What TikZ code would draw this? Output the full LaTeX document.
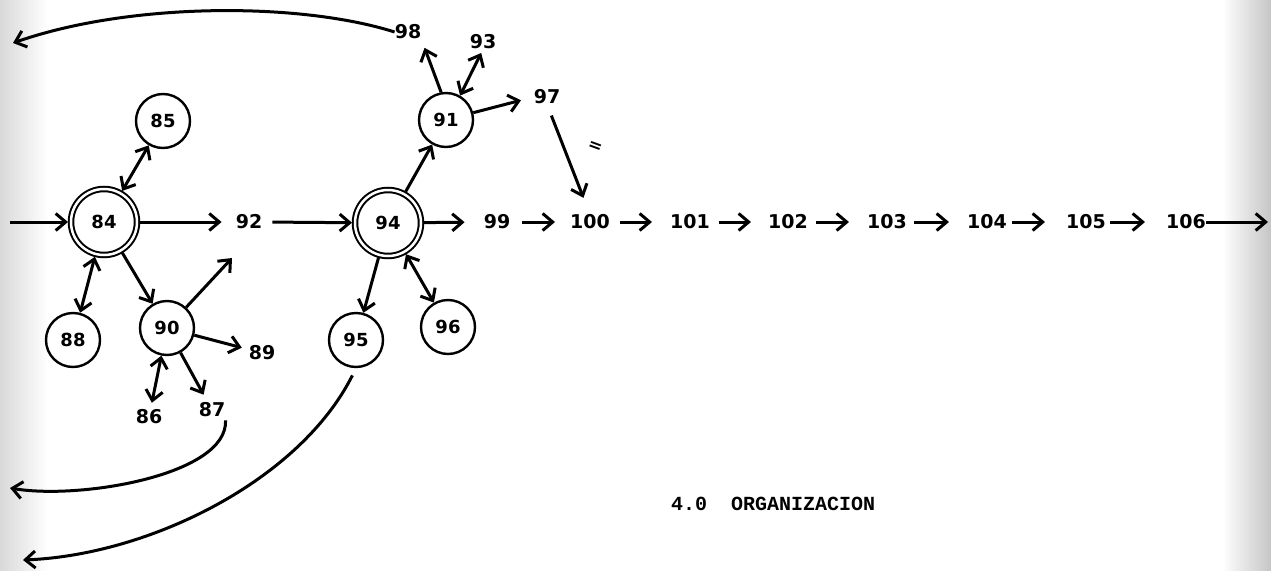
\documentclass[tikz,border=0pt]{standalone}
\usepackage{fontspec}
\usetikzlibrary{arrows.meta}
\newfontfamily\numfont{DejaVu Sans}
\newfontfamily\labfont{Liberation Mono}
\begin{document}
\begin{tikzpicture}[x=1pt,y=-1pt,
  >={Straight Barb[length=10pt,width=17pt]},
  sc/.style={draw,circle,minimum size=54pt,inner sep=0pt,line width=2.4pt,font=\numfont\bfseries\fontsize{18}{20}\selectfont},
  dc/.style={draw,circle,minimum size=66pt,inner sep=0pt,line width=2pt,double,double distance=2.5pt,outer sep=3pt,font=\numfont\bfseries\fontsize{18}{20}\selectfont},
  lbl/.style={inner sep=0pt,font=\numfont\bfseries\fontsize{19}{22}\selectfont},
  arr/.style={->,line width=3pt},
  barr/.style={<->,line width=3pt},
]
\useasboundingbox (0,0) rectangle (1271,570);
% scanned page edges
\fill[left color=gray!30,right color=white,draw=none] (0,0) rectangle (48,570);
\fill[left color=white,right color=gray!45,draw=none] (1222,0) rectangle (1271,570);

% circles
\node[dc] (n84) at (104,222) {84};
\node[dc] (n94) at (388,223) {94};
\node[sc] (n85) at (163,121) {85};
\node[sc] (n88) at (73,340) {88};
\node[sc] (n90) at (167,328) {90};
\node[sc] (n95) at (356,340) {95};
\node[sc] (n96) at (448,327) {96};
\node[sc] (n91) at (446,120) {91};

% labels
\node[lbl] (n92) at (249,222) {92};
\node[lbl] (n98) at (408,32) {98};
\node[lbl] (n93) at (483,42) {93};
\node[lbl] (n97) at (547,97) {97};
\node[lbl] (n89) at (262,353) {89};
\node[lbl] (n86) at (149,417) {86};
\node[lbl] (n87) at (212,410) {87};
\node[lbl] (n99) at (497,222) {99};
\node[lbl] (n100) at (590,222) {100};
\node[lbl] (n101) at (690,222) {101};
\node[lbl] (n102) at (788,222) {102};
\node[lbl] (n103) at (887,222) {103};
\node[lbl] (n104) at (987,222) {104};
\node[lbl] (n105) at (1086,222) {105};
\node[lbl] (n106) at (1186,222) {106};
\node[inner sep=0pt,rotate=-20,font=\numfont\bfseries\fontsize{17}{18}\selectfont] (mark) at (595,147) {=};
\node[inner sep=0pt,anchor=base west,font=\labfont\bfseries\fontsize{20}{22}\selectfont] (title) at (671,510) {4.0\ \ ORGANIZACION};

% free ends
\coordinate (in84) at (10,222);
\coordinate (f90) at (232,258);
\coordinate (tl) at (13,43);
\coordinate (bl1) at (10,488);
\coordinate (bl2) at (23,560);
\coordinate (out106) at (1268,222);

% connectors
\draw[arr] (in84) -- (n84);
\draw[arr,shorten >=14pt] (n84) -- (n92.west);
\draw[arr,shorten <=10pt] (n92.east) -- (n94);
\draw[arr,shorten >=19pt] (n94) -- (n99.west);
\draw[barr] (n84) -- (n85);
\draw[barr] (n84) -- (n88);
\draw[arr] (n84) -- (n90);
\draw[arr] (n90) -- (f90);
\draw[arr,shorten >=7pt] (n90) -- (n89);
\draw[barr,shorten >=7pt] (n90) -- (n86);
\draw[arr,shorten >=9pt] (n90) -- (n87);
\draw[arr] (n94) -- (n95);
\draw[barr] (n94) -- (n96);
\draw[arr] (n94) -- (n91);
\draw[arr,shorten >=9pt] (n91.100) -- (n98.south east);
\draw[barr,shorten >=4pt] (n91.60) -- (n93.south);
\draw[arr,shorten >=13pt] (n91.15) -- (n97.west);
\draw[arr,shorten <=12pt,shorten >=18pt] (n97.south) -- (n100.north);

\draw[arr,shorten <=12pt,shorten >=15pt] (n99.east) -- (n100.west);
\draw[arr,shorten <=10pt,shorten >=18pt] (n100.east) -- (n101.west);
\draw[arr,shorten <=9pt,shorten >=17pt] (n101.east) -- (n102.west);
\draw[arr,shorten <=8pt,shorten >=18pt] (n102.east) -- (n103.west);
\draw[arr,shorten <=7pt,shorten >=18pt] (n103.east) -- (n104.west);
\draw[arr,shorten <=5pt,shorten >=21pt] (n104.east) -- (n105.west);
\draw[arr,shorten <=4pt,shorten >=21pt] (n105.east) -- (n106.west);
\draw[arr] (n106.east) -- (out106);

% return arcs
\draw[arr] (n98.west) .. controls (300,2) and (130,2) .. (tl);
\draw[arr,shorten <=3pt] (n87.south east) .. controls (228,475) and (80,500) .. (bl1);
\draw[arr,shorten <=8pt] (n95.south) .. controls (300,480) and (150,555) .. (bl2);
\end{tikzpicture}
\end{document}
